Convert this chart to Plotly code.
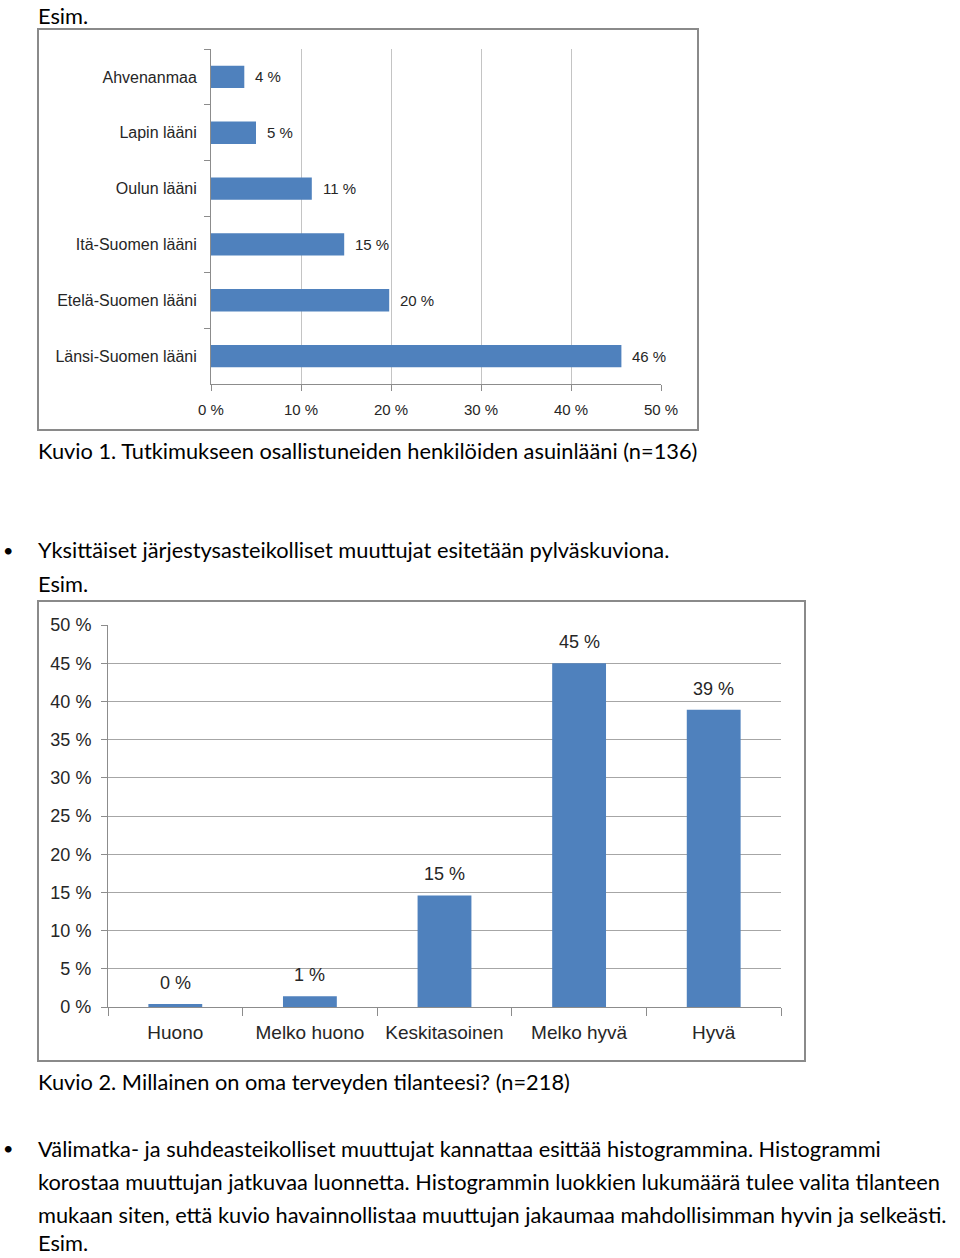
import plotly.graph_objects as go

W, H = 960, 1258

# ---- data ----
regions = ["Ahvenanmaa", "Lapin lääni", "Oulun lääni", "Itä-Suomen lääni",
           "Etelä-Suomen lääni", "Länsi-Suomen lääni"]
region_pct = [3.7, 5.0, 11.2, 14.8, 19.8, 45.6]

health_cats = ["Huono", "Melko huono", "Keskitasoinen", "Melko hyvä", "Hyvä"]
health_pct = [0.4, 1.4, 14.6, 45.0, 38.9]

pct_ticks = [0, 10, 20, 30, 40, 50]
pct_ticks2 = [0, 5, 10, 15, 20, 25, 30, 35, 40, 45, 50]

BAR = "#4F81BD"
GRID = "#a6a6a6"
AXIS = "#8c8c8c"
TXT = "#262626"
CHART_FONT = "Liberation Sans, sans-serif"
BODY_FONT = "Lato, Open Sans, sans-serif"


def fx(x):
    return x / W


def fy(y):
    return 1 - y / H


fig = go.Figure()
fig.add_trace(go.Bar(y=regions, x=region_pct, orientation="h", width=0.4,
                     marker=dict(color=BAR, line=dict(width=0)),
                     xaxis="x", yaxis="y", hoverinfo="skip"))
fig.add_trace(go.Bar(x=health_cats, y=health_pct, width=0.4,
                     marker=dict(color=BAR, line=dict(width=0)),
                     xaxis="x2", yaxis="y2", hoverinfo="skip"))

annotations = []
for r, v in zip(regions, region_pct):
    annotations.append(dict(x=v, y=r, xref="x", yref="y", text=f"{round(v)} %",
                            showarrow=False, xanchor="left", xshift=9,
                            font=dict(family=CHART_FONT, size=15, color=TXT)))
for c, v in zip(health_cats, health_pct):
    annotations.append(dict(x=c, y=v, xref="x2", yref="y2", text=f"{round(v)} %",
                            showarrow=False, yanchor="middle", yshift=21,
                            font=dict(family=CHART_FONT, size=18, color=TXT)))

body = [
    (0, "top", "Esim."),
    (450, "middle", "Kuvio 1. Tutkimukseen osallistuneiden henkilöiden asuinlääni (n=136)"),
    (550, "middle", "Yksittäiset järjestysasteikolliset muuttujat esitetään pylväskuviona."),
    (583, "middle", "Esim."),
    (1081, "middle", "Kuvio 2. Millainen on oma terveyden tilanteesi? (n=218)"),
    (1148, "middle", "Välimatka- ja suhdeasteikolliset muuttujat kannattaa esittää histogrammina. Histogrammi"),
    (1181, "middle", "korostaa muuttujan jatkuvaa luonnetta. Histogrammin luokkien lukumäärä tulee valita tilanteen"),
    (1214, "middle", "mukaan siten, että kuvio havainnollistaa muuttujan jakaumaa mahdollisimman hyvin ja selkeästi."),
    (1258, "bottom", "Esim."),
]
for y, anc, t in body:
    annotations.append(dict(x=fx(36), y=fy(y), xref="paper", yref="paper", text=t,
                            showarrow=False, xanchor="left", yanchor=anc,
                            font=dict(family=BODY_FONT, size=21.8, color="#000000")))
for y in (550, 1148):
    annotations.append(dict(x=fx(8), y=fy(y), xref="paper", yref="paper", text="•",
                            showarrow=False, xanchor="center", yanchor="middle",
                            font=dict(family=BODY_FONT, size=18, color="#000000")))

shapes = [
    dict(type="rect", xref="paper", yref="paper", x0=fx(38), x1=fx(698),
         y0=fy(430), y1=fy(29), line=dict(color="#8a8a8a", width=2)),
    dict(type="rect", xref="paper", yref="paper", x0=fx(38), x1=fx(805),
         y0=fy(1061), y1=fy(601), line=dict(color="#8a8a8a", width=2)),
]

fig.update_layout(
    width=W, height=H, margin=dict(l=0, r=0, t=0, b=0, pad=0, autoexpand=False),
    paper_bgcolor="white", plot_bgcolor="white", showlegend=False,
    annotations=annotations, shapes=shapes,
    xaxis=dict(domain=[fx(211), fx(661)], anchor="y", range=[0, 50],
               automargin=False,
               tickvals=pct_ticks, ticktext=[f"{t} %" for t in pct_ticks],
               showgrid=True, gridcolor="#c4c4c4", gridwidth=1, zeroline=False,
               showline=True, linecolor=AXIS, ticks="outside", ticklen=6,
               tickcolor=AXIS, ticklabelstandoff=6,
               tickfont=dict(family=CHART_FONT, size=15, color=TXT)),
    yaxis=dict(domain=[fy(384), fy(49)], anchor="x", type="category",
               automargin=False,
               autorange="reversed", showgrid=False, showline=True,
               linecolor=AXIS, ticks="outside", tickson="boundaries",
               ticklen=6, tickcolor=AXIS, ticklabelstandoff=10,
               tickfont=dict(family=CHART_FONT, size=16, color=TXT)),
    xaxis2=dict(domain=[fx(108), fx(781)], anchor="y2", type="category",
                automargin=False,
                showgrid=False, showline=True, linecolor=AXIS,
                ticks="outside", tickson="boundaries", ticklen=8,
                tickcolor=AXIS, ticklabelstandoff=8,
                tickfont=dict(family=CHART_FONT, size=19, color=TXT)),
    yaxis2=dict(domain=[fy(1007), fy(625)], anchor="x2", range=[0, 50],
                automargin=False,
                tickvals=pct_ticks2, ticktext=[f"{t} %" for t in pct_ticks2],
                showgrid=True, gridcolor=GRID, gridwidth=1, zeroline=False,
                showline=True, linecolor=AXIS, ticks="outside", ticklen=6,
                tickcolor=AXIS, ticklabelstandoff=6,
                tickfont=dict(family=CHART_FONT, size=18, color=TXT)),
)

fig.write_html("out.html",
               config={"displayModeBar": False},
               post_script="document.body.style.margin='0';"
                           "document.body.style.overflow='hidden';")
